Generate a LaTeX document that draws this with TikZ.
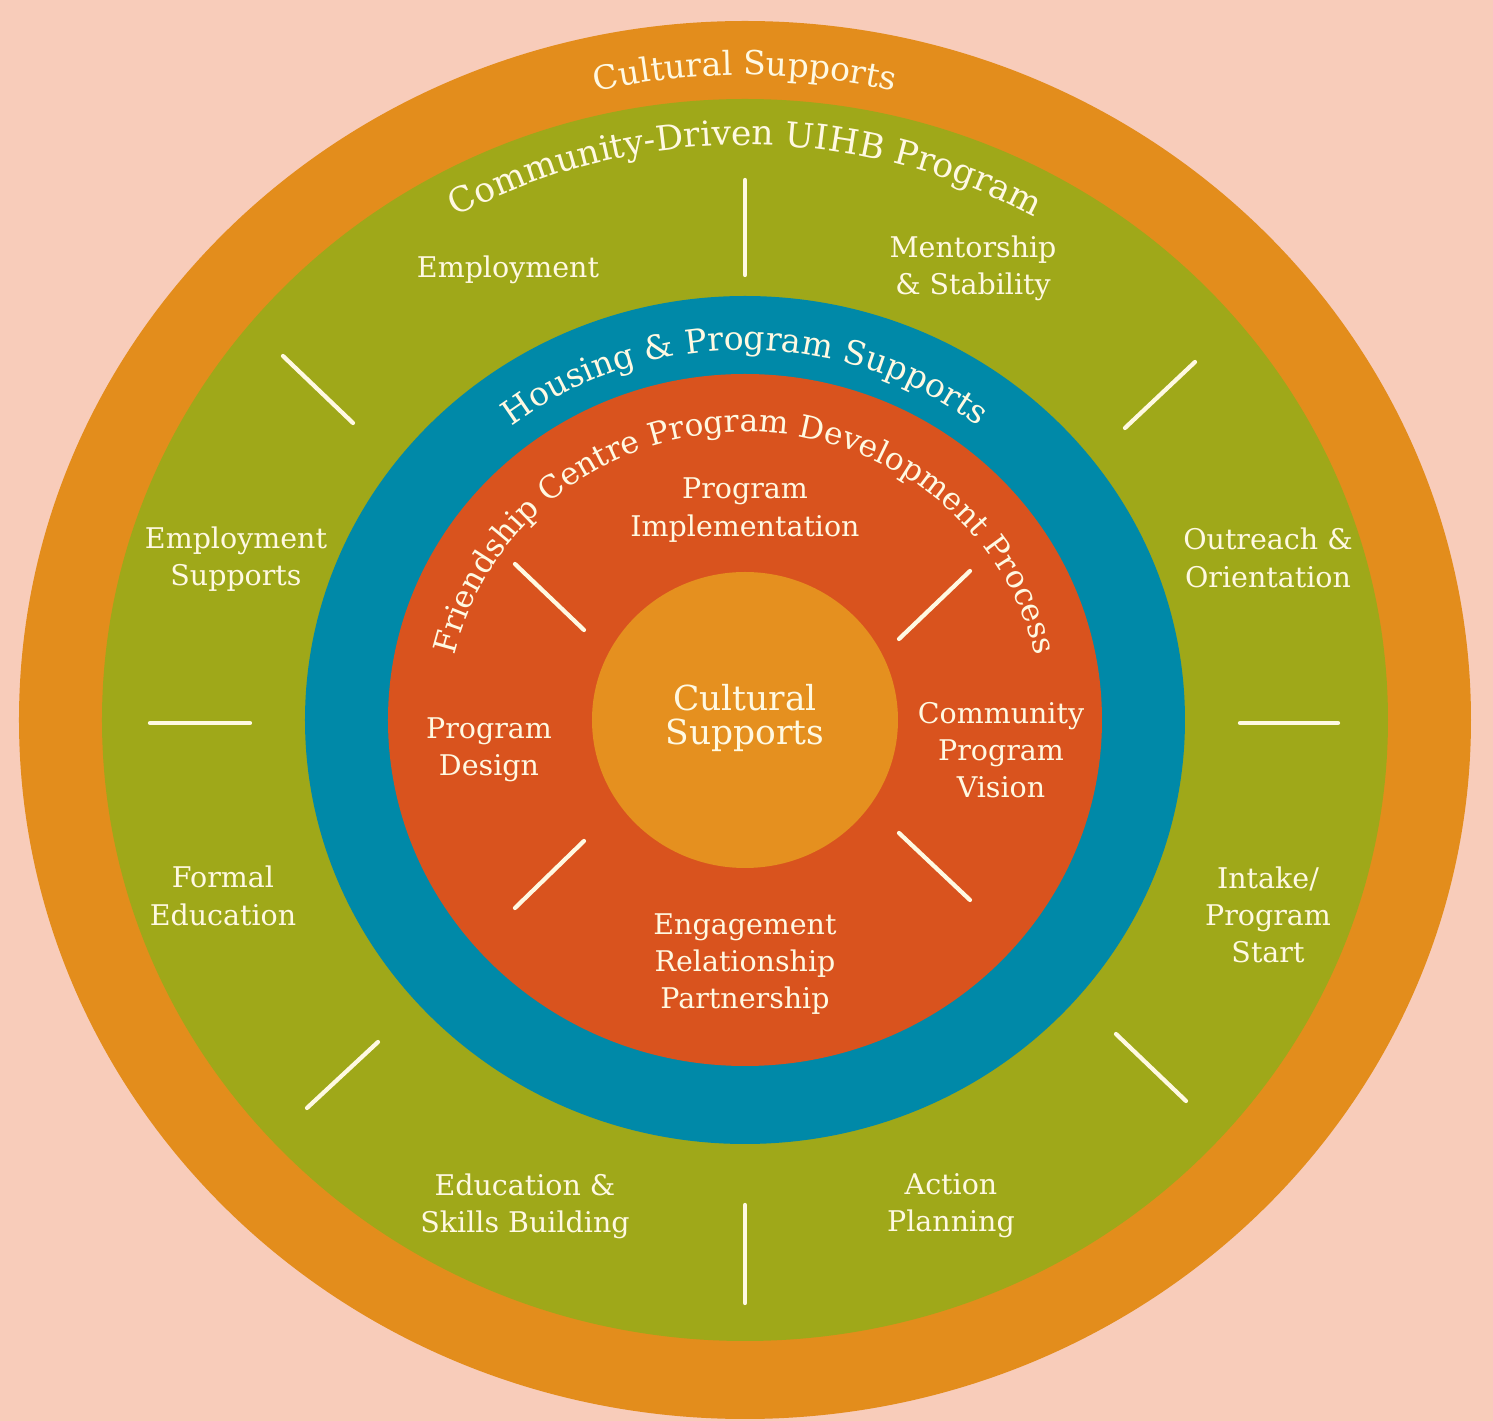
\documentclass[tikz,border=0pt]{standalone}
\usepackage{fontspec}
\setmainfont{DejaVu Serif}
\usetikzlibrary{calc, decorations.text}

\definecolor{peach}{RGB}{248,204,186}
\definecolor{ringorange}{RGB}{227,141,28}
\definecolor{ringgreen}{RGB}{159,168,25}
\definecolor{ringblue}{RGB}{0,137,168}
\definecolor{ringred}{RGB}{217,83,30}
\definecolor{coreorange}{RGB}{229,144,31}
\definecolor{cream}{RGB}{255,249,226}

\newcommand{\labfont}{\fontsize{8.1}{10.6}\selectfont}
\newcommand{\corefont}{\fontsize{9.8}{9.6}\selectfont}

\begin{document}
\begin{tikzpicture}[x=0.01cm,y=0.01cm,
    lab/.style={text=cream,align=center,font=\labfont,inner sep=0pt},
    tick/.style={cream,line width=1.2pt},
    ringtext/.style 2 args={decorate,decoration={text along path,text align=center,
        text={|\fontsize{#1}{12}\selectfont\color{cream}|#2}}}]
    \fill[peach] (-745,-701) rectangle (748,720);
    \useasboundingbox (-745,-701) rectangle (748,720);
    % rings
    \fill[ringorange] (0,0) ellipse[x radius=726,y radius=699];
    \fill[ringgreen] (0,0) ellipse[x radius=643,y radius=621];
    \fill[ringblue] (0,0) ellipse[x radius=440,y radius=424];
    \fill[ringred] (0,0) ellipse[x radius=357,y radius=346];
    \fill[coreorange] (0,0) ellipse[x radius=153,y radius=148];
    % ring titles
    \path[ringtext={9.4}{Cultural Supports}] (-668,0) arc[start angle=180,end angle=0,x radius=668,y radius=645];
    \path[ringtext={9.8}{Community-Driven UIHB Program}] (-596,0) arc[start angle=180,end angle=0,x radius=596,y radius=575];
    \path[ringtext={9.4}{Housing {\&} Program Supports}] (-383,0) arc[start angle=180,end angle=0,x radius=383,y radius=370];
    \path[ringtext={8.9}{Friendship Centre Program Development Process}] (-298,0) arc[start angle=180,end angle=0,x radius=298,y radius=288];
    % dividers
    \foreach \a/\b in {{0,540}/{0,445},{0,-485}/{0,-583},{-595,-3}/{-495,-3},{495,-3}/{593,-3},
        {-462,364}/{-392,297},{450,358}/{380,292},{-367,-322}/{-438,-388},{371,-314}/{441,-381},
        {-230,156}/{-161,90},{225,149}/{154,81},{-161,-121}/{-230,-188},{154,-113}/{225,-180}}
        \draw[tick,line cap=round] (\a)--(\b);
    % outer stages
    \node[lab] (employ) at (-237,450) {Employment};
    \node[lab] (mentor) at (228,452) {Mentorship\\\& Stability};
    \node[lab] (empsup) at (-509,161) {Employment\\Supports};
    \node[lab] (outreach) at (523,162) {Outreach \&\\Orientation};
    \node[lab] (formal) at (-522,-176) {Formal\\Education};
    \node[lab] (intake) at (523,-195) {Intake/\\Program\\Start};
    \node[lab] (eduskill) at (-220,-486) {Education \&\\Skills Building};
    \node[lab] (action) at (206,-486) {Action\\Planning};
    % inner process
    \node[lab] (implement) at (0,210) {Program\\Implementation};
    \node[lab] (design) at (-256,-30) {Program\\Design};
    \node[lab] (vision) at (256,-30) {Community\\Program\\Vision};
    \node[lab] (engage) at (0,-244) {Engagement\\Relationship\\Partnership};
    \node[lab,font=\corefont] (core) at (0,2) {Cultural\\Supports};
\end{tikzpicture}
\end{document}
